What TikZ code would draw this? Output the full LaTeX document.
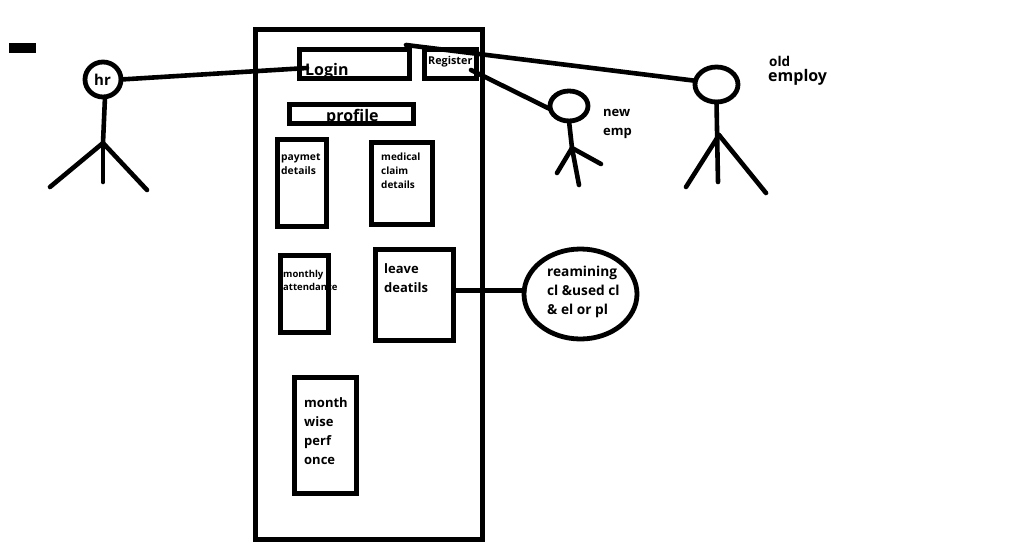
\documentclass[tikz,border=0pt]{standalone}
\usepackage{fontspec}
\setmainfont{Open Sans}
\usetikzlibrary{shapes.geometric}

\tikzset{
  wallbox/.style={draw,line width=5pt,inner sep=0pt,outer sep=0pt},
  headring/.style={draw,ellipse,line width=4.8pt,inner sep=0pt,outer sep=0pt},
  labeltext/.style={anchor=west,align=left,inner sep=0pt,font=\bfseries},
  stroke/.style={draw,line width=4.6pt,line cap=round}
}

\begin{document}
\begin{tikzpicture}[x=1pt,y=-1pt]
      \useasboundingbox (0,0) rectangle (1018,554);

      % boxes
      \begin{scope}[every node/.style={wallbox}]
        \node[minimum width=227pt,minimum height=510pt] (system) at (368.5,284) {};
        \node[minimum width=110pt,minimum height=29pt] (loginbox) at (354.5,64) {};
        \node[minimum width=52pt,minimum height=29pt] (registerbox) at (450.5,64) {};
        \node[minimum width=124pt,minimum height=19pt] (profilebox) at (351,114) {};
        \node[minimum width=49pt,minimum height=87pt] (paymetbox) at (302,183) {};
        \node[minimum width=61pt,minimum height=82pt] (medicalbox) at (402,183.5) {};
        \node[minimum width=48pt,minimum height=77pt] (monthlybox) at (304.5,294) {};
        \node[minimum width=78pt,minimum height=91pt] (leavebox) at (414.5,295) {};
        \node[minimum width=62pt,minimum height=116pt] (perfbox) at (325.5,435.5) {};
      \end{scope}

      \node[fill=black,minimum width=27pt,minimum height=10pt,inner sep=0pt] (dash) at (22.5,48) {};

      % heads
      \begin{scope}[every node/.style={headring}]
        \node[minimum width=36pt,minimum height=35pt] (hrhead) at (103,79.5) {};
        \node[minimum width=38pt,minimum height=30pt] (newhead) at (569,106) {};
        \node[minimum width=43pt,minimum height=35pt] (oldhead) at (716.5,84.5) {};
        \node[minimum width=113pt,minimum height=90pt] (balance) at (580.5,294) {};
      \end{scope}

      % joints and loose ends
      \coordinate (loginend) at (307,68);
      \coordinate (oldend) at (406,45);
      \coordinate (newend) at (471,70);
      \coordinate (hrneck) at (105,97);
      \coordinate (hrhub) at (103,143);
      \coordinate (hrleft) at (50,187);
      \coordinate (hrfoot) at (103,182);
      \coordinate (hrright) at (147,190);
      \coordinate (newhub) at (572,148);
      \coordinate (newleft) at (557,173);
      \coordinate (newfoot) at (579,185);
      \coordinate (newright) at (601,164);
      \coordinate (oldhub) at (719,135);
      \coordinate (oldleft) at (686,187);
      \coordinate (oldfoot) at (718,182);
      \coordinate (oldright) at (766,193);

      \begin{scope}[every edge/.style={stroke}]
        \path (hrhead.east) edge (loginend);
        \path (oldend) edge (oldhead.170);
        \path (newend) edge (newhead.190);
        \path ([yshift=5pt]leavebox.east) edge[line width=5pt] ([yshift=4pt]balance.west);

        \path (hrneck) edge (hrhub);
        \path (hrhub) edge (hrleft);
        \path (hrhub) edge (hrfoot);
        \path (hrhub) edge (hrright);

        \path (newhead.south) edge (newhub);
        \path (newhub) edge (newfoot);
        \path (newhub) edge (newleft);
        \path (newhub) edge (newright);

        \path (oldhead.south) edge (oldfoot);
        \path (oldhub) edge (oldleft);
        \path (oldhub) edge (oldright);
      \end{scope}

      % labels
      \begin{scope}[every node/.style={labeltext}]
        \node[font=\bfseries\fontsize{16}{18}\selectfont] (login) at (305,71) {Login};
        \node[font=\bfseries\fontsize{10.8}{12}\selectfont] (register) at (428,62) {Register};
        \node[font=\bfseries\fontsize{16}{18}\selectfont] (profile) at (326,117) {profile};
        \node[font=\bfseries\fontsize{15}{17}\selectfont] (hr) at (94,80) {hr};
        \node[font=\bfseries\fontsize{10.3}{14}\selectfont] (paymet) at (281,164) {paymet\\details};
        \node[font=\bfseries\fontsize{10}{14}\selectfont] (medical) at (381,171) {medical\\claim\\details};
        \node[font=\bfseries\fontsize{9.5}{13}\selectfont] (monthly) at (283,280) {monthly\\attendance};
        \node[font=\bfseries\fontsize{13}{19}\selectfont] (leave) at (384,278) {leave\\deatils};
        \node[font=\bfseries\fontsize{13}{19}\selectfont] (perf) at (304,431) {month\\wise\\perf\\once};
        \node[font=\bfseries\fontsize{13.7}{19}\selectfont] (remain) at (547,292) {reamining\\cl \&used cl\\\& el or pl};
        \node[font=\bfseries\fontsize{13}{19}\selectfont] (newemp) at (603,124) {new\\emp};
        \node[font=\bfseries\fontsize{13.5}{15}\selectfont] (oldword) at (769,61) {old};
        \node[font=\bfseries\fontsize{16}{18}\selectfont] (employ) at (768,77) {employ};
      \end{scope}

    \end{tikzpicture}
\end{document}
